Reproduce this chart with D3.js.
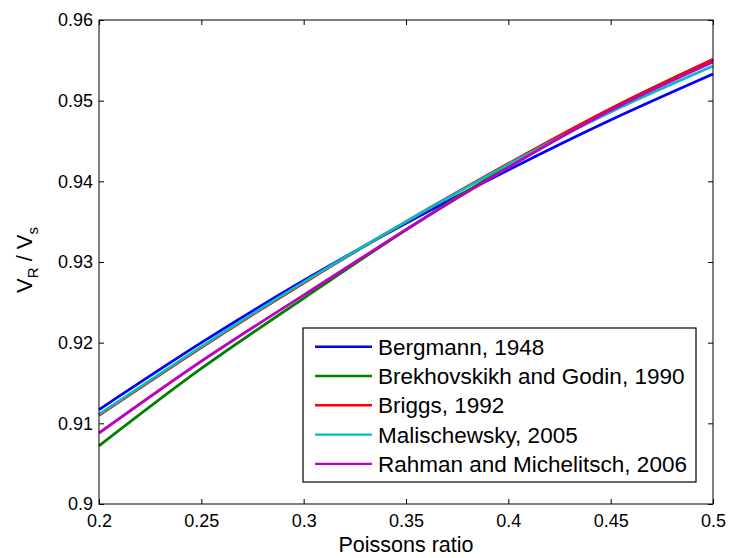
<!DOCTYPE html>
<html>
<head>
<meta charset="utf-8">
<script src="https://d3js.org/d3.v7.min.js"></script>
<style>
  body { margin: 0; background: #fff; }
  svg { display: block; font-family: Arial, "Liberation Sans", Helvetica, sans-serif; }
  .axis text { font-size: 18px; fill: #000; }
  .axis line { stroke: #000; }
</style>
</head>
<body>
<svg id="chart" width="729" height="558"></svg>
<script>
// poisson ratio sample points
const nu = [0.2, 0.25, 0.3, 0.35, 0.4, 0.45, 0.5];

// VR/VS for each approximation
const bergmann    = [0.9117, 0.9200, 0.9277, 0.9348, 0.9414, 0.9476, 0.9533];
const brekhovskikh = [0.9072, 0.9168, 0.9255, 0.9340, 0.9419, 0.9490, 0.9551];
const briggs      = [0.9110, 0.9194, 0.9274, 0.9350, 0.9422, 0.9490, 0.9551];
const malischewsky = [0.9111, 0.9195, 0.9275, 0.9350, 0.9421, 0.9486, 0.9543];
const rahman      = [0.9088, 0.9177, 0.9259, 0.9340, 0.9417, 0.9488, 0.9548];

const seriesNames = ["Bergmann, 1948", "Brekhovskikh and Godin, 1990", "Briggs, 1992",
                     "Malischewsky, 2005", "Rahman and Michelitsch, 2006"];
const seriesValues = [bergmann, brekhovskikh, briggs, malischewsky, rahman];
const seriesColors = ["#0000ff", "#008000", "#ff0000", "#00bfbf", "#bf00bf"];

const xTicks = [0.2, 0.25, 0.3, 0.35, 0.4, 0.45, 0.5];
const yTicks = [0.9, 0.91, 0.92, 0.93, 0.94, 0.95, 0.96];

const margin = { top: 20, right: 16, bottom: 54, left: 99 },
      width = 729 - margin.left - margin.right,
      height = 558 - margin.top - margin.bottom;

const svg = d3.select("#chart");
const g = svg.append("g").attr("transform", `translate(${margin.left},${margin.top})`);

const x = d3.scaleLinear().domain([0.2, 0.5]).range([0, width]);
const y = d3.scaleLinear().domain([0.9, 0.96]).range([height, 0]);

// axes, ticks pointing inward like matlab
const fmt = d => String(+d.toFixed(2));
g.append("g").attr("class", "axis").attr("transform", `translate(0,${height})`)
  .call(d3.axisBottom(x).tickValues(xTicks).tickFormat(fmt).tickSizeInner(-5).tickSizeOuter(0).tickPadding(10))
  .call(s => s.select(".domain").remove());
g.append("g").attr("class", "axis")
  .call(d3.axisLeft(y).tickValues(yTicks).tickFormat(fmt).tickSizeInner(-5).tickSizeOuter(0).tickPadding(6))
  .call(s => s.select(".domain").remove());
g.append("g").attr("class", "axis")
  .call(d3.axisTop(x).tickValues(xTicks).tickFormat("").tickSizeInner(-5).tickSizeOuter(0))
  .call(s => s.select(".domain").remove());
g.append("g").attr("class", "axis").attr("transform", `translate(${width},0)`)
  .call(d3.axisRight(y).tickValues(yTicks).tickFormat("").tickSizeInner(-5).tickSizeOuter(0))
  .call(s => s.select(".domain").remove());

// curves
const line = d3.line()
  .x((d, i) => x(nu[i]))
  .y(d => y(d))
  .curve(d3.curveNatural);

seriesValues.forEach((vals, k) => {
  g.append("path")
    .attr("d", line(vals))
    .attr("fill", "none")
    .attr("stroke", seriesColors[k])
    .attr("stroke-width", 2.8);
});

// plot box
g.append("rect")
  .attr("width", width).attr("height", height)
  .attr("fill", "none").attr("stroke", "#000").attr("stroke-width", 1);

// labels
svg.append("text")
  .attr("x", margin.left + width / 2).attr("y", 552)
  .attr("text-anchor", "middle").attr("font-size", 21.5)
  .text("Poissons ratio");

const yl = svg.append("text")
  .attr("transform", `translate(32,${margin.top + height / 2 - 2}) rotate(-90)`)
  .attr("text-anchor", "middle").attr("font-size", 22);
yl.append("tspan").text("V");
yl.append("tspan").attr("font-size", 15).attr("dy", 6).text("R");
yl.append("tspan").attr("dy", -6).text(" / V");
yl.append("tspan").attr("font-size", 15).attr("dy", 6).text("s");

// legend
const lg = svg.append("g").attr("transform", "translate(303,328)");
lg.append("rect")
  .attr("width", 393).attr("height", 154)
  .attr("fill", "#fff").attr("stroke", "#000").attr("stroke-width", 1.2);
seriesNames.forEach((name, k) => {
  const cy = 18.7 + k * 29.3;
  lg.append("line")
    .attr("x1", 12).attr("x2", 69).attr("y1", cy).attr("y2", cy)
    .attr("stroke", seriesColors[k]).attr("stroke-width", 2.4);
  lg.append("text")
    .attr("x", 75).attr("y", cy + 8)
    .attr("font-size", 22.5)
    .text(name);
});
</script>
</body>
</html>
